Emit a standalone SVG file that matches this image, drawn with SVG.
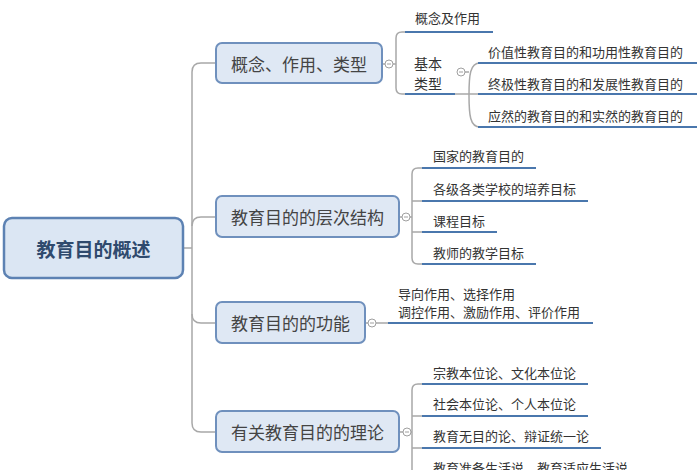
<svg xmlns="http://www.w3.org/2000/svg" width="700" height="470" viewBox="0 0 700 470">
<style>
text{font-family:"Noto Sans CJK SC","Noto Sans",sans-serif;dominant-baseline:central}
.root rect{fill:#dbe6f3;stroke:#5d82b3;stroke-width:2.5}
.root text{font-size:19px;font-weight:bold;fill:#2f4a6d;text-anchor:middle}
.l1 rect{fill:#dfe8f4;stroke:#6f90bd;stroke-width:2}
.l1 text{font-size:17px;fill:#444;text-anchor:middle}
.l2 text{font-size:13px;fill:#333}
.ul{stroke:#4a77ad;stroke-width:2;fill:none}
.cn{stroke:#a8a8a8;stroke-width:1.5;fill:none}
.tg circle{fill:#fff;stroke:#a0a0a0;stroke-width:1}
.tg path{stroke:#a0a0a0;stroke-width:1}
</style>
<rect width="700" height="470" fill="#fff"/>
<g id="connectors">
<path class="cn" d="M183,248 H192"/>
<path class="cn" d="M216,63 H201 Q192,63 192,72 V423 Q192,432 201,432 H216"/>
<path class="cn" d="M192,226 Q192,217 201,217 H216"/>
<path class="cn" d="M192,314 Q192,323 201,323 H216"/>
<path class="cn" d="M382,64 H385 M393,64 H396"/>
<path class="cn" d="M405,32 H402 Q396,32 396,38 V88 Q396,94 402,94 H405"/>
<path class="cn" d="M455,94 H469 M465,72 H469"/>
<path class="cn" d="M480,63 C470,63 469,75 469,95 C469,115 470,127 480,127 M469,94 H478"/>
<path class="cn" d="M399,217 H402 M410,217 H412"/>
<path class="cn" d="M422,168 H418 Q412,168 412,174 V258 Q412,264 418,264 H422 M412,201 H422 M412,232 H422"/>
<path class="cn" d="M365,323 H368 M376,323 H388"/>
<path class="cn" d="M399,432 H403 M411,432 H412"/>
<path class="cn" d="M422,384 H418 Q412,384 412,390 V470 M412,416 H422 M412,448 H422"/>
</g>
<g id="root" class="root">
<rect x="4" y="218" width="179" height="60" rx="8"/>
<text x="93.5" y="248">教育目的概述</text>
</g>
<g id="n1" class="l1">
<rect x="216" y="43" width="166" height="40" rx="6"/>
<text x="299" y="63">概念、作用、类型</text>
</g>
<g id="n2" class="l1">
<rect x="216" y="196" width="183" height="41" rx="6"/>
<text x="307.5" y="216.5">教育目的的层次结构</text>
</g>
<g id="n3" class="l1">
<rect x="216" y="302" width="149" height="41" rx="6"/>
<text x="290.5" y="322.5">教育目的的功能</text>
</g>
<g id="n4" class="l1">
<rect x="216" y="411" width="183" height="41" rx="6"/>
<text x="307.5" y="431.5">有关教育目的的理论</text>
</g>
<g id="toggles" class="tg">
<circle cx="389" cy="64" r="4"/><path d="M387,64 H391"/>
<circle cx="461" cy="72" r="4"/><path d="M459,72 H463"/>
<circle cx="406" cy="217" r="4"/><path d="M404,217 H408"/>
<circle cx="372" cy="323" r="4"/><path d="M370,323 H374"/>
<circle cx="407" cy="432" r="4"/><path d="M405,432 H409"/>
</g>
<g id="n1-1" class="l2"><text x="415" y="17">概念及作用</text><path class="ul" d="M405,32 H493"/></g>
<g id="n1-2" class="l2"><text x="428" y="63" font-size="14" text-anchor="middle" style="font-size:14px">基本</text><text x="428" y="83" text-anchor="middle" style="font-size:14px">类型</text><path class="ul" d="M405,94 H455"/></g>
<g id="n1-2-1" class="l2"><text x="488" y="51">价值性教育目的和功用性教育目的</text><path class="ul" d="M478,63 H697"/></g>
<g id="n1-2-2" class="l2"><text x="488" y="83">终极性教育目的和发展性教育目的</text><path class="ul" d="M478,94 H697"/></g>
<g id="n1-2-3" class="l2"><text x="488" y="115">应然的教育目的和实然的教育目的</text><path class="ul" d="M478,127 H697"/></g>
<g id="n2-1" class="l2"><text x="433" y="155">国家的教育目的</text><path class="ul" d="M422,168 H536"/></g>
<g id="n2-2" class="l2"><text x="433" y="188">各级各类学校的培养目标</text><path class="ul" d="M422,201 H588"/></g>
<g id="n2-3" class="l2"><text x="433" y="220">课程目标</text><path class="ul" d="M422,232 H497"/></g>
<g id="n2-4" class="l2"><text x="433" y="252">教师的教学目标</text><path class="ul" d="M422,264 H536"/></g>
<g id="n3-1" class="l2"><text x="398" y="293">导向作用、选择作用</text><text x="398" y="311">调控作用、激励作用、评价作用</text><path class="ul" d="M388,323 H593"/></g>
<g id="n4-1" class="l2"><text x="433" y="372">宗教本位论、文化本位论</text><path class="ul" d="M422,384 H588"/></g>
<g id="n4-2" class="l2"><text x="433" y="403">社会本位论、个人本位论</text><path class="ul" d="M422,416 H588"/></g>
<g id="n4-3" class="l2"><text x="433" y="435">教育无目的论、辩证统一论</text><path class="ul" d="M422,448 H601"/></g>
<g id="n4-4" class="l2"><text x="433" y="467">教育准备生活说、教育适应生活说</text></g>
</svg>
